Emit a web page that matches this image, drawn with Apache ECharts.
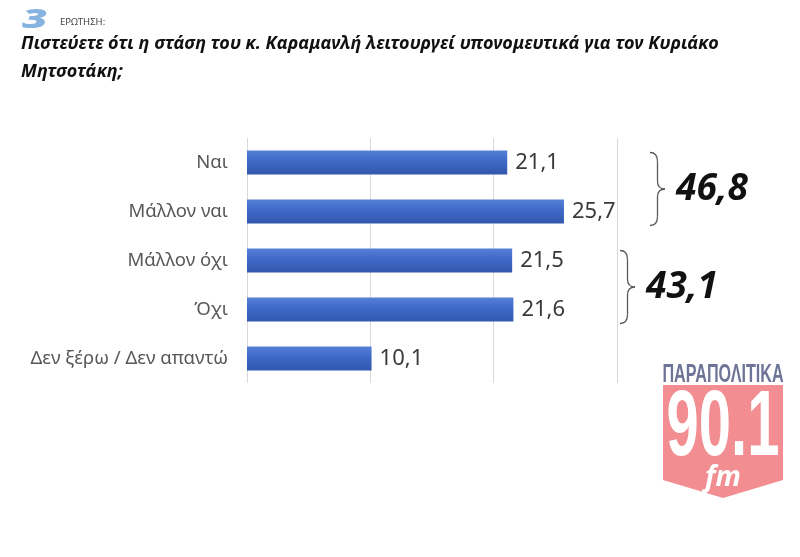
<!DOCTYPE html>
<html><head><meta charset="utf-8">
<script src="https://cdn.jsdelivr.net/npm/echarts@6/dist/echarts.min.js"></script>
<style>html,body{margin:0;padding:0;background:#fff}#c{width:800px;height:557px}</style>
</head><body><div id="c"></div>
<script>
const categories = ['Ναι', 'Μάλλον ναι', 'Μάλλον όχι', 'Όχι', 'Δεν ξέρω / Δεν απαντώ'];
const values = [21.1, 25.7, 21.5, 21.6, 10.1];
const groupTotals = [46.8, 43.1];
const groupMembers = [['Ναι', 'Μάλλον ναι'], ['Μάλλον όχι', 'Όχι']];
const xTicks = [0, 10, 20, 30];

const FONT = '"Noto Sans", "Open Sans", sans-serif';
const NARROW = '"Liberation Sans Narrow", "Liberation Sans", sans-serif';
const fmt = v => String(v).replace('.', ',');

const chart = echarts.init(document.getElementById('c'), null, {renderer: 'canvas'});
chart.setOption({
  backgroundColor: '#ffffff',
  animation: false,
  grid: {left: 247, right: 183, top: 138, bottom: 174},
  xAxis: {
    type: 'value', min: xTicks[0], max: xTicks[xTicks.length - 1], interval: 10,
    axisLabel: {show: false}, axisLine: {show: false}, axisTick: {show: false},
    splitLine: {show: true, lineStyle: {color: '#d9d9d9', width: 1}}
  },
  yAxis: {
    type: 'category', data: categories, inverse: true,
    axisLine: {show: false}, axisTick: {show: false},
    axisLabel: {margin: 19, fontFamily: FONT, fontSize: 18.5, color: '#575757'}
  },
  series: [{
    type: 'bar', data: values, barWidth: 24,
    itemStyle: {
      color: new echarts.graphic.LinearGradient(0, 0, 0, 1, [
        {offset: 0, color: '#5580d6'},
        {offset: 0.4, color: '#416bc9'},
        {offset: 1, color: '#3157ad'}
      ])
    },
    label: {
      show: true, position: 'right', distance: 8,
      formatter: p => fmt(p.value),
      fontFamily: FONT, fontSize: 22, color: '#3a3a3a'
    }
  }]
});

const braceStyle = {stroke: '#5a5a5a', lineWidth: 1.3, fill: null};
function braceParts(x, y1, y2, w) {
  const m = (y1 + y2) / 2, h = w / 2;
  const q = (a, b, c, d, e, f) => ({type: 'bezierCurve', shape: {x1: a, y1: b, cpx1: c, cpy1: d, x2: e, y2: f}, style: braceStyle});
  const l = (a, b, c, d) => ({type: 'line', shape: {x1: a, y1: b, x2: c, y2: d}, style: braceStyle});
  return [
    q(x, y1, x + h, y1, x + h, y1 + 9),
    l(x + h, y1 + 9, x + h, m - 8),
    q(x + h, m - 8, x + h, m, x + w, m),
    q(x + w, m, x + h, m, x + h, m + 8),
    l(x + h, m + 8, x + h, y2 - 9),
    q(x + h, y2 - 9, x + h, y2, x, y2)
  ];
}
const braceX = [650, 620];
const graphics = [];
groupMembers.forEach((g, i) => {
  const yTop = chart.convertToPixel({yAxisIndex: 0}, g[0]) - 10;
  const yBot = chart.convertToPixel({yAxisIndex: 0}, g[1]) + 14;
  braceParts(braceX[i], yTop, yBot, 15).forEach(p => graphics.push(p));
  graphics.push({type: 'text', x: braceX[i] + 26, y: (yTop + yBot) / 2,
    style: {text: fmt(groupTotals[i]), fontFamily: FONT, fontSize: 37, fontWeight: 'bold', fontStyle: 'italic',
      fill: '#111', verticalAlign: 'middle', align: 'left'}});
});
// header
graphics.push({type: 'text', x: 22, y: 21, scaleX: 1.7,
  style: {text: '3', fontFamily: FONT, fontSize: 26, fontWeight: 900, fontStyle: 'italic',
  fill: '#86b3e0', verticalAlign: 'middle'}});
graphics.push({type: 'text', x: 60, y: 22, style: {text: 'ΕΡΩΤΗΣΗ:', fontFamily: FONT, fontSize: 9.5, fill: '#444', verticalAlign: 'middle'}});
graphics.push({type: 'text', x: 21, y: 44, style: {text: 'Πιστεύετε ότι η στάση του κ. Καραμανλή λειτουργεί υπονομευτικά για τον Κυριάκο',
  fontFamily: FONT, fontSize: 18, fontWeight: 'bold', fontStyle: 'italic', fill: '#111', verticalAlign: 'middle'}});
graphics.push({type: 'text', x: 21, y: 72, style: {text: 'Μητσοτάκη;',
  fontFamily: FONT, fontSize: 18, fontWeight: 'bold', fontStyle: 'italic', fill: '#111', verticalAlign: 'middle'}});
// logo
graphics.push({type: 'text', x: 723, y: 375, scaleX: 0.62,
  style: {text: 'ΠΑΡΑΠΟΛΙΤΙΚΑ', fontFamily: NARROW, fontSize: 26, fontWeight: 'bold',
    fill: '#6e7497', align: 'center', verticalAlign: 'middle'}});
graphics.push({type: 'polygon', shape: {points: [[663, 385], [783, 385], [783, 480], [723, 498], [663, 480]]},
  style: {fill: '#f28d91'}});
graphics.push({type: 'text', x: 723, y: 430, scaleX: 0.63,
  style: {text: '90.1', fontFamily: NARROW, fontSize: 92, fontWeight: 'bold',
    fill: '#ffffff', align: 'center', verticalAlign: 'middle'}});
graphics.push({type: 'text', x: 723, y: 478, style: {text: 'fm', fontFamily: FONT, fontSize: 28, fontWeight: 'bold', fontStyle: 'italic',
  fill: '#ffffff', align: 'center', verticalAlign: 'middle'}});
chart.setOption({graphic: graphics});
</script></body></html>
